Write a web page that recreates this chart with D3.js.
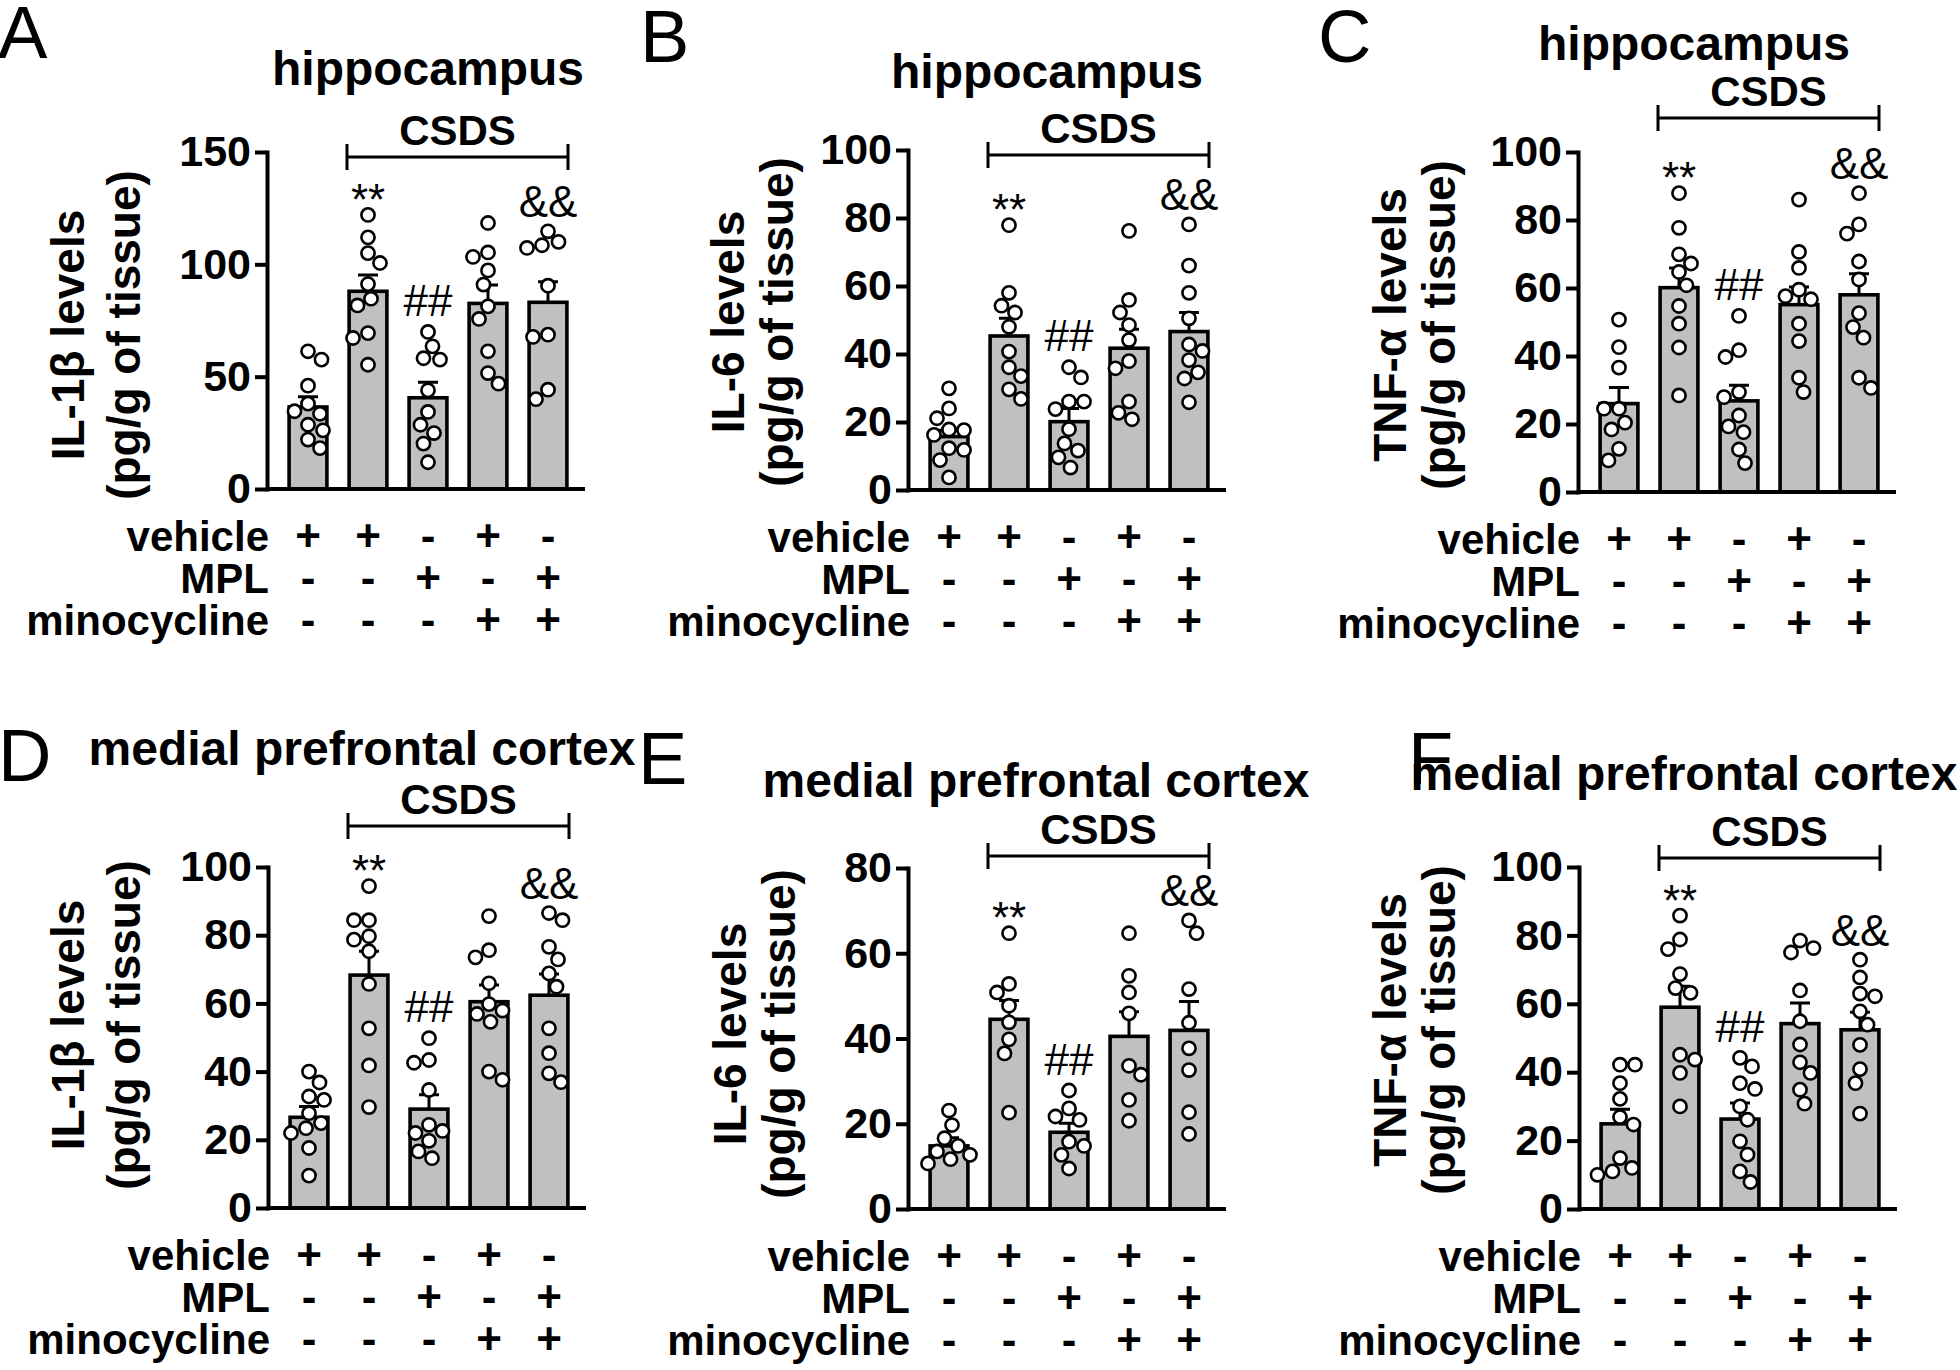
<!DOCTYPE html>
<html><head><meta charset="utf-8">
<script src="https://cdn.jsdelivr.net/npm/d3@7"></script>
<style>
body{margin:0;background:#fff}
svg{display:block}
text{font-family:"Liberation Sans",Arial,Helvetica,sans-serif;fill:#000}
</style>
</head><body>
<svg id="fig" width="1960" height="1370"></svg>
<script>
// ---------------- DATA ----------------
const groups = ["veh", "CSDS+veh", "CSDS+MPL", "CSDS+mino", "CSDS+MPL+mino"];
const rowLabels = ["vehicle", "MPL", "minocycline"];
const vehicleRow = ["+", "+", "-", "+", "-"];
const mplRow     = ["-", "-", "+", "-", "+"];
const minoRow    = ["-", "-", "-", "+", "+"];
const annotations = ["", "**", "##", "", "&&"];
const panelLetters = ["A", "B", "C", "D", "E", "F"];
const panelTitles = ["hippocampus", "hippocampus", "hippocampus",
  "medial prefrontal cortex", "medial prefrontal cortex", "medial prefrontal cortex"];
const yLabels = ["IL-1\u03B2 levels", "IL-6 levels", "TNF-\u03B1 levels",
  "IL-1\u03B2 levels", "IL-6 levels", "TNF-\u03B1 levels"];
const yLabelUnit = "(pg/g of tissue)";
const bracketLabel = "CSDS";

const ticksA = [0, 50, 100, 150];
const ticksB = [0, 20, 40, 60, 80, 100];
const ticksC = [0, 20, 40, 60, 80, 100];
const ticksD = [0, 20, 40, 60, 80, 100];
const ticksE = [0, 20, 40, 60, 80];
const ticksF = [0, 20, 40, 60, 80, 100];

// A: IL-1beta hippocampus
const meansA = [36.5, 88, 40.6, 82.6, 83.1];
const semA   = [4.6, 7.2, 6.9, 8.2, 9.2];
const pointsA = [
  [61.3, 57.6, 46, 38, 33.5, 34.6, 28.6, 26.1, 22, 18.2],
  [122, 112, 105, 100.6, 91.2, 84.7, 81.7, 69.4, 67.2, 55.3],
  [69.9, 63.5, 58.2, 57.6, 43.9, 34.3, 28.6, 24.9, 20.2, 11.9],
  [118.4, 105.3, 103.3, 97.3, 91, 81.3, 75.7, 61.3, 51.6, 46.9],
  [114.7, 110, 108.5, 107.3, 90.5, 68.7, 67.7, 44.2, 40]
];
// B: IL-6 hippocampus
const meansB = [15.7, 45.3, 20.1, 41.7, 46.6];
const semB   = [1.9, 5.2, 3.9, 5.6, 5.6];
const pointsB = [
  [29.9, 24, 21.1, 17.8, 17.6, 16.2, 12.3, 11.8, 8.8, 3.7],
  [77.9, 58, 54.2, 52.2, 48, 40.7, 36.1, 33.5, 29.6, 26.8],
  [36.1, 33.1, 23.8, 26, 26, 17.9, 13.7, 11.6, 9.6, 6.6],
  [76.2, 55.9, 52.2, 48.5, 44.1, 37.9, 35.8, 26, 22.7, 20.8],
  [78.1, 66, 58, 50.5, 42.8, 40.9, 38.2, 34.6, 32.8, 25.8]
];
// C: TNF-alpha hippocampus
const meansC = [26, 60.1, 26.8, 55.1, 58];
const semC   = [4.7, 5.8, 4.6, 5.2, 6.2];
const pointsC = [
  [50.7, 42.6, 36.6, 24.5, 24.5, 20.4, 18.4, 12.7, 9.3],
  [87.9, 77.7, 69.9, 67.2, 64.7, 60.8, 54.7, 49.5, 42.5, 28.4],
  [51.8, 41.7, 39.7, 29.4, 27.9, 22.5, 19.3, 17.6, 12.5, 8.5],
  [86, 70.6, 65.9, 56.7, 57.6, 59.5, 49.5, 44.4, 33.6, 29.4],
  [87.9, 78.7, 76, 67.8, 62.5, 52.6, 48.5, 45.4, 33.6, 30.6]
];
// D: IL-1beta mPFC
const meansD = [26.6, 68.3, 29, 60.5, 62.4];
const semD   = [3.2, 7, 4.2, 4.9, 6.2];
const pointsD = [
  [40, 36.8, 32.7, 31.7, 27.8, 24.9, 23.4, 22, 17.6, 9.5],
  [94.4, 84.4, 84.4, 78.7, 79.7, 75.3, 65.7, 52.7, 41.8, 29.6],
  [49.8, 43.4, 42.6, 34.6, 24.4, 22.6, 22, 19.7, 16.6, 14.6],
  [85.6, 75.6, 73.5, 65.9, 57.9, 59.8, 56.9, 54.6, 40, 37.6],
  [86.5, 84.4, 76.6, 72.9, 68.8, 64.9, 52.7, 45.4, 39.5, 36.9]
];
// E: IL-6 mPFC
const meansE = [14.8, 44.5, 18, 40.5, 41.9];
const semE   = [1.9, 4.4, 2.1, 5.8, 6.8];
const pointsE = [
  [23.1, 19.7, 16.6, 14.8, 13.5, 12.7, 11.7, 10.7],
  [64.7, 52.8, 50.8, 47.7, 43.8, 39.8, 36.5, 22.6],
  [27.8, 23.6, 20.9, 21.7, 15.8, 14.8, 12.7, 9.5],
  [64.7, 54.7, 50.8, 45.9, 33.6, 31.5, 25.6, 20.7],
  [67.7, 64.7, 51.6, 43.7, 37.7, 32.6, 22.7, 17.6]
];
// F: TNF-alpha mPFC
const meansF = [24.9, 59, 26.3, 54.2, 52.4];
const semF   = [4.3, 6.1, 4.7, 6, 5.1];
const pointsF = [
  [42.2, 42.2, 36.8, 32.2, 26.9, 24.7, 14.9, 12, 11, 10],
  [85.8, 78.8, 76, 68.7, 63.2, 64.6, 45.1, 43.7, 39.8, 30],
  [44.2, 41.7, 36.8, 35.1, 30, 26.1, 19.8, 15.9, 11, 7.9],
  [78.5, 76.3, 75, 63.9, 54.9, 48.1, 42.9, 39.8, 34.9, 30.8],
  [72.9, 67.7, 63, 62.2, 57.8, 53.9, 48, 40.9, 36.8, 27.9]
];

const panelTicks  = [ticksA, ticksB, ticksC, ticksD, ticksE, ticksF];
const panelMeans  = [meansA, meansB, meansC, meansD, meansE, meansF];
const panelSem    = [semA, semB, semC, semD, semE, semF];
const panelPoints = [pointsA, pointsB, pointsC, pointsD, pointsE, pointsF];

// ---------------- LAYOUT (positions only) ----------------
const layout = [
  {ax: 267,  y0: 489,  yTop: 152, letter: [-2, 58],    title: [428, 85],    bracketY: 157, lab: [84, 140, 335]},
  {ax: 908,  y0: 490,  yTop: 150, letter: [640, 62],   title: [1047, 88],   bracketY: 155, lab: [744, 793, 322]},
  {ax: 1578, y0: 492,  yTop: 152, letter: [1318, 62],  title: [1694, 60],   bracketY: 118, lab: [1406, 1455, 325]},
  {ax: 268,  y0: 1208, yTop: 867, letter: [-2, 781],   title: [362, 765],   bracketY: 826, lab: [84, 140, 1025]},
  {ax: 908,  y0: 1209, yTop: 868, letter: [638, 784],  title: [1036, 797],  bracketY: 856, lab: [746, 795, 1034]},
  {ax: 1579, y0: 1209, yTop: 867, letter: [1408, 784], title: [1684, 790],  bracketY: 858, lab: [1406, 1455, 1030]}
];

const svg = d3.select("#fig");
const R = 6.6;

function swarm(vals, y, r) {
  const pts = vals.map(v => ({v: v, y: y(v), dx: 0})).sort((a, b) => a.y - b.y);
  const placed = [];
  const minD = 2 * r + 1.5;
  pts.forEach((p, i) => {
    let chosen = 0;
    for (let k = 0; k <= 40; k++) {
      const cands = k === 0 ? [0] : (placed.length % 2 ? [k, -k] : [-k, k]);
      let ok = null;
      for (const c of cands) {
        const off = c * 1.5;
        if (placed.every(q => (q.dx - off) ** 2 + (q.y - p.y) ** 2 >= minD * minD)) { ok = off; break; }
      }
      if (ok !== null) { chosen = ok; break; }
    }
    p.dx = chosen;
    placed.push(p);
  });
  return pts;
}

layout.forEach((L, pi) => {
  const g = svg.append("g");
  const ticks = panelTicks[pi];
  const yMax = ticks[ticks.length - 1];
  const y = d3.scaleLinear().domain([0, yMax]).range([L.y0, L.yTop]);
  const x = d3.scalePoint().domain(groups).range([L.ax + 11, L.ax + 311]).padding(0.5);
  const bw = x.step() * 0.63;

  // panel letter
  g.append("text").attr("x", L.letter[0]).attr("y", L.letter[1])
    .attr("font-size", 74).attr("font-weight", "normal").text(panelLetters[pi]);
  // title
  g.append("text").attr("x", L.title[0]).attr("y", L.title[1])
    .attr("text-anchor", "middle").attr("font-size", 48).attr("font-weight", "bold")
    .text(panelTitles[pi]);

  // bracket CSDS
  const bx1 = x(groups[1]) - 21, bx2 = x(groups[4]) + 20, by = L.bracketY;
  g.append("path").attr("d", `M${bx1},${by - 13}V${by + 13}M${bx1},${by}H${bx2}M${bx2},${by - 13}V${by + 13}`)
    .attr("stroke", "#000").attr("stroke-width", 3).attr("fill", "none");
  g.append("text").attr("x", (bx1 + bx2) / 2).attr("y", by - 12)
    .attr("text-anchor", "middle").attr("font-size", 42).attr("font-weight", "bold").text(bracketLabel);

  // y label
  g.append("text").attr("transform", `translate(${L.lab[0]},${L.lab[2]}) rotate(-90)`)
    .attr("text-anchor", "middle").attr("font-size", 46).attr("font-weight", "bold").text(yLabels[pi]);
  g.append("text").attr("transform", `translate(${L.lab[1]},${L.lab[2]}) rotate(-90)`)
    .attr("text-anchor", "middle").attr("font-size", 46).attr("font-weight", "bold").text(yLabelUnit);

  // bars
  const means = panelMeans[pi], sem = panelSem[pi];
  g.selectAll("rect.bar").data(groups).join("rect").attr("class", "bar")
    .attr("x", d => x(d) - bw / 2).attr("width", bw)
    .attr("y", (d, i) => y(means[i])).attr("height", (d, i) => L.y0 - y(means[i]))
    .attr("fill", "#c0c0c0").attr("stroke", "#000").attr("stroke-width", 3.6);

  // error bars
  g.selectAll("path.err").data(groups).join("path").attr("class", "err")
    .attr("d", (d, i) => {
      const cx = x(d), yt = y(means[i] + sem[i]), yb = y(means[i]);
      return `M${cx},${yb}V${yt}M${cx - 10},${yt}H${cx + 10}`;
    })
    .attr("stroke", "#000").attr("stroke-width", 3).attr("fill", "none");

  // axes
  const axis = d3.axisLeft(y).tickValues(ticks).tickSize(12).tickSizeOuter(0).tickPadding(4);
  const ag = g.append("g").attr("transform", `translate(${L.ax},0)`).call(axis);
  ag.select(".domain").attr("stroke-width", 4).attr("stroke-linecap", "square");
  ag.selectAll(".tick line").attr("stroke-width", 4);
  ag.selectAll(".tick text").attr("font-size", 43).attr("font-weight", "bold")
    .attr("font-family", "'Liberation Sans',Arial,sans-serif").attr("fill", "#000");
  g.append("line").attr("x1", L.ax).attr("x2", L.ax + 318).attr("y1", L.y0).attr("y2", L.y0)
    .attr("stroke", "#000").attr("stroke-width", 4);

  // points
  const pts = panelPoints[pi];
  groups.forEach((grp, gi) => {
    const sw = swarm(pts[gi], y, R);
    g.selectAll(null).data(sw).join("circle")
      .attr("cx", d => x(grp) + d.dx).attr("cy", d => d.y).attr("r", R)
      .attr("fill", "#fff").attr("stroke", "#000").attr("stroke-width", 2.6);
    const ann = annotations[gi];
    if (ann) {
      const top = y(d3.max(pts[gi]));
      const off = ann === "**" ? 0 : (ann === "##" ? -16 : -14);
      g.append("text").attr("x", x(grp)).attr("y", top + off)
        .attr("text-anchor", "middle").attr("font-size", 44).text(ann);
    }
  });

  // treatment table
  const rows = [vehicleRow, mplRow, minoRow];
  const rowDy = [62, 104, 146];
  rows.forEach((row, ri) => {
    const ty = L.y0 + rowDy[ri];
    g.append("text").attr("x", L.ax + 2).attr("y", ty).attr("text-anchor", "end")
      .attr("font-size", 42).attr("font-weight", "bold").text(rowLabels[ri]);
    g.selectAll(null).data(groups).join("text")
      .attr("x", d => x(d)).attr("y", ty).attr("text-anchor", "middle")
      .attr("font-size", 44).attr("font-weight", "bold").text((d, i) => row[i]);
  });
});
</script>
</body></html>
